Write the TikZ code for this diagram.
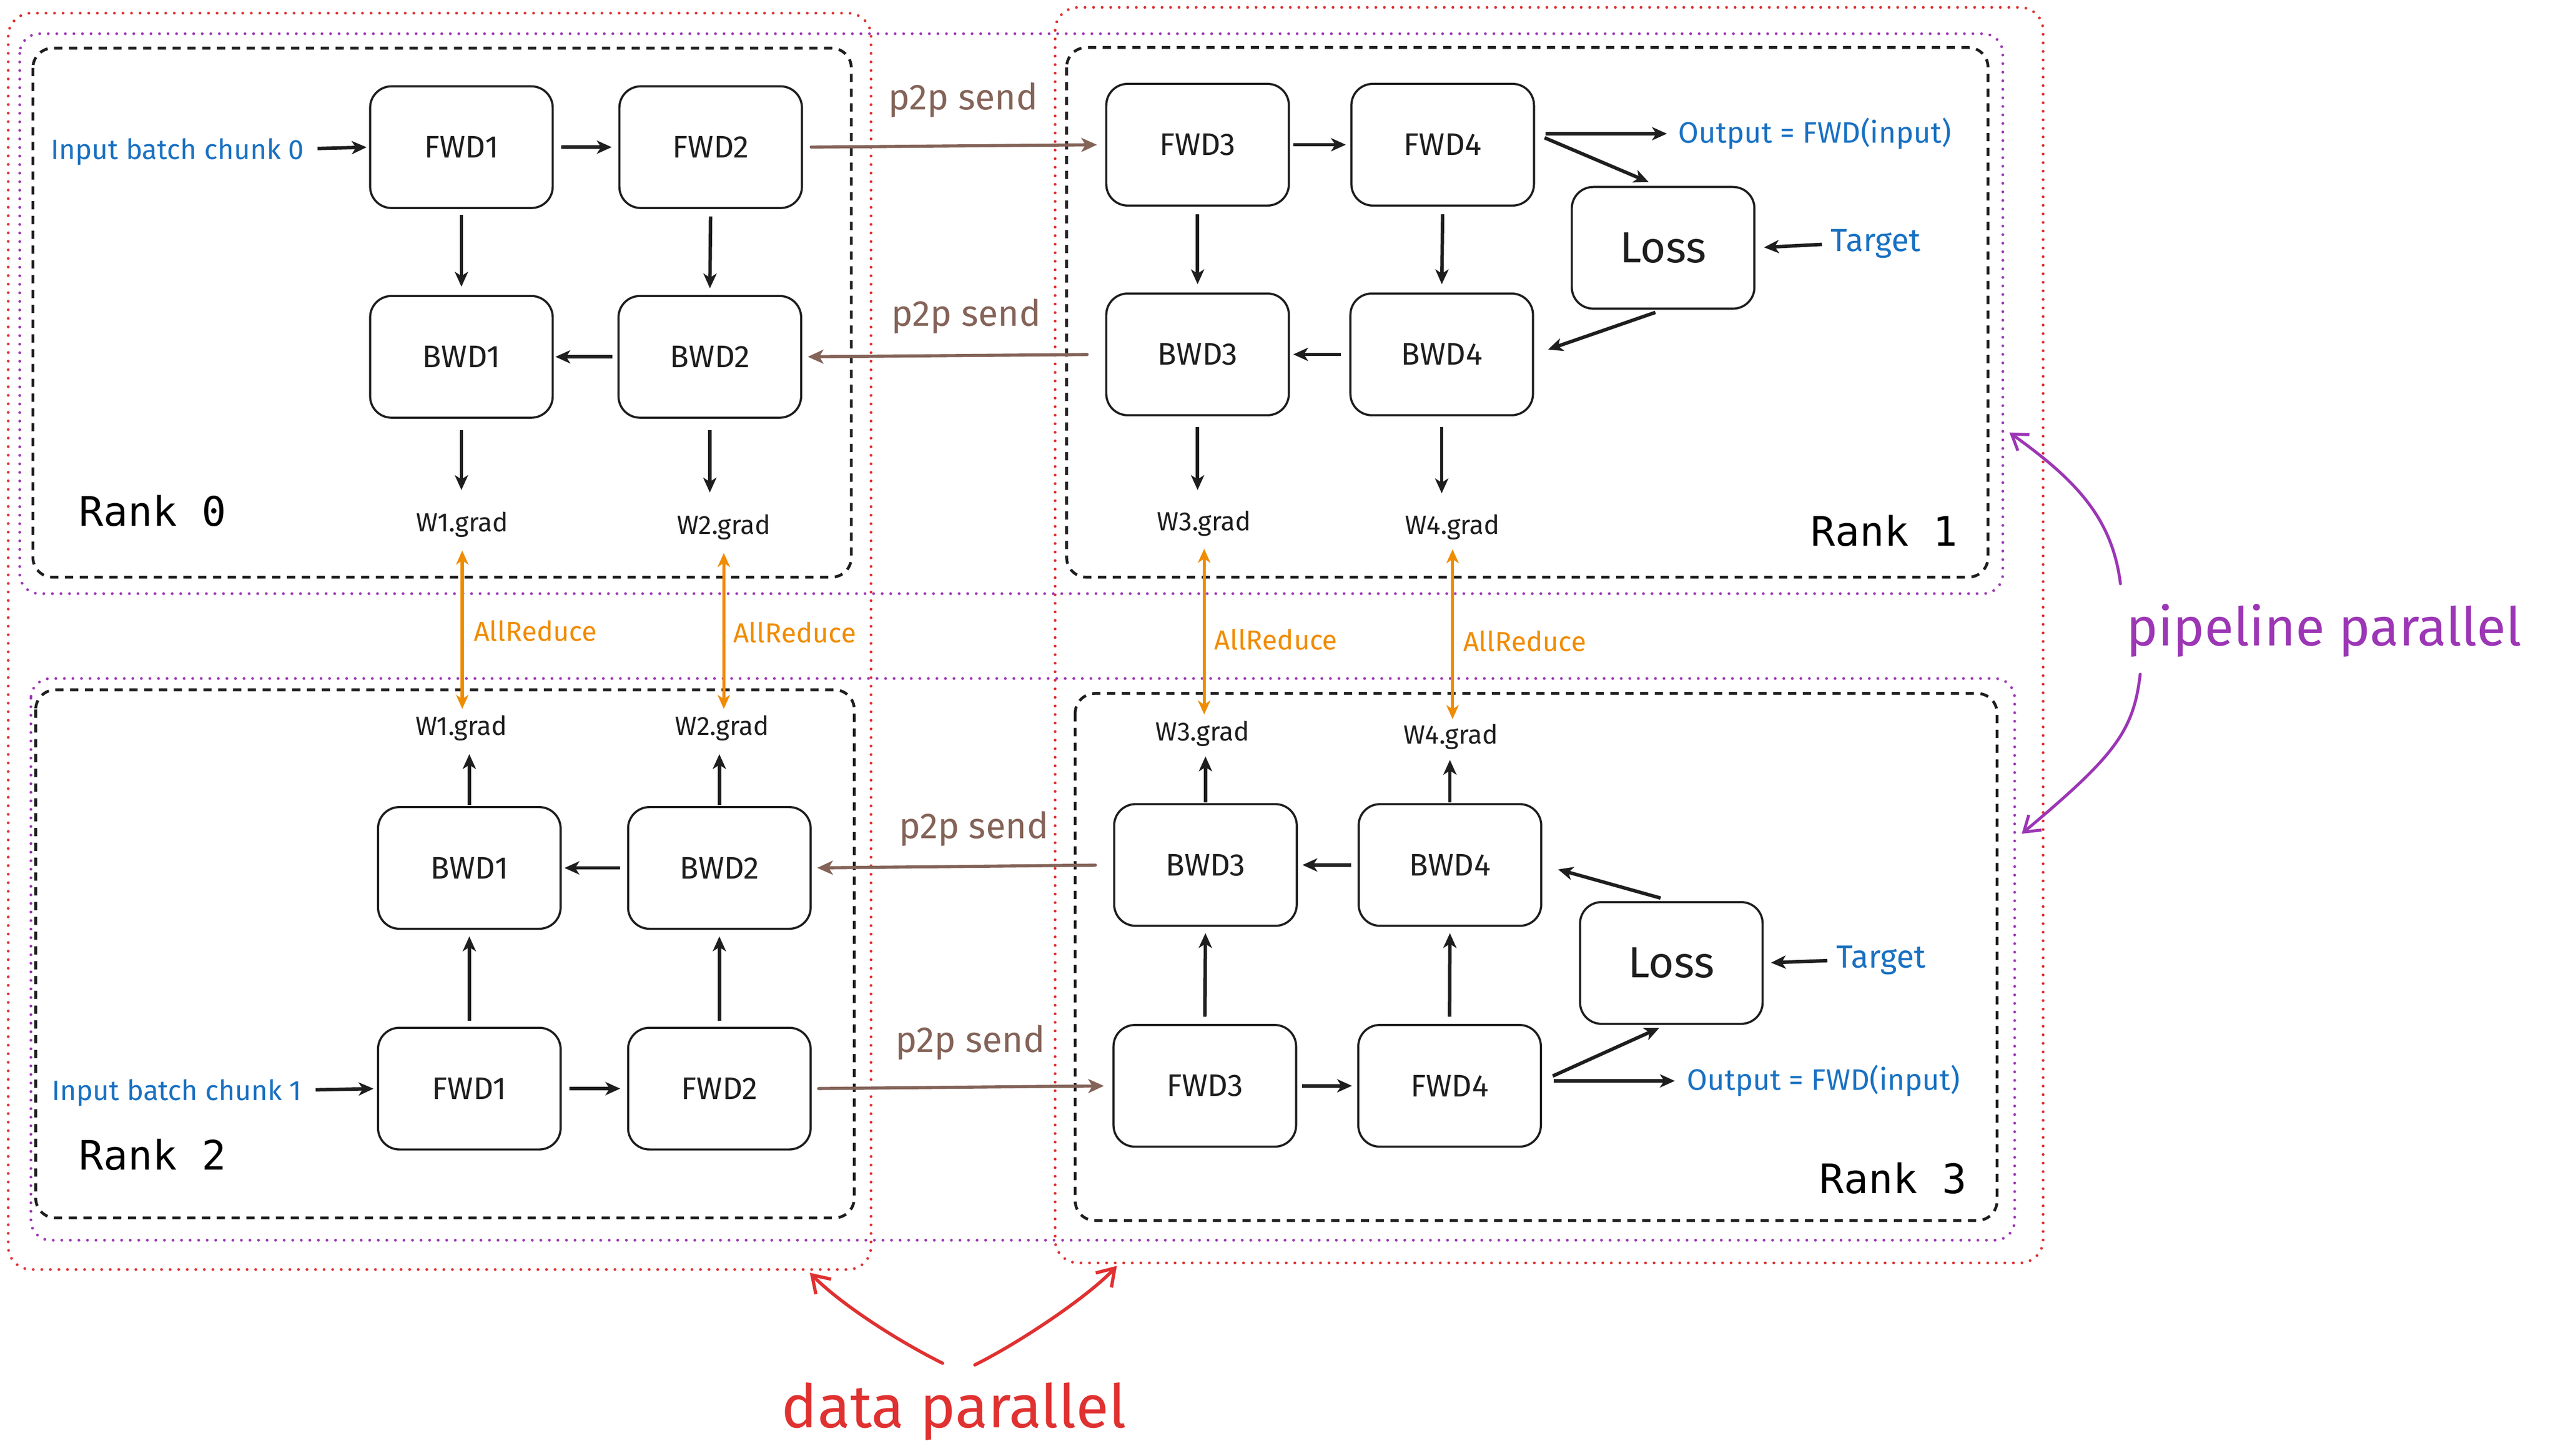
\documentclass[tikz,border=0pt]{standalone}
\usepackage{fontspec}
\setmainfont{Fira Sans}
\newfontfamily\rankfont{DejaVu Sans Mono}
\usetikzlibrary{arrows.meta}
\definecolor{ink}{HTML}{1E1E1E}
\definecolor{redc}{HTML}{E03131}
\definecolor{purpc}{HTML}{9C36B5}
\definecolor{orac}{HTML}{F08C00}
\definecolor{bluec}{HTML}{1971C2}
\definecolor{brownc}{HTML}{846358}
\newcommand\myfs[1]{\fontsize{#1}{#1}\selectfont}
\tikzset{
  box/.style={draw=ink, line width=1.3pt, rounded corners=13pt, minimum width=111pt, minimum height=74pt, inner sep=0pt, font=\myfs{19}, text=ink},
  lossfont/.style={font=\myfs{26.5}},
  rankbox/.style={draw=ink, line width=1.7pt, dash pattern=on 5pt off 4pt, rounded corners=12pt},
  reddot/.style={draw=redc, line width=1.7pt, line cap=round, dash pattern=on 0pt off 5.2pt, rounded corners=14pt},
  purpdot/.style={draw=purpc, line width=1.7pt, line cap=round, dash pattern=on 0pt off 5.2pt, rounded corners=12pt},
  arr/.style={draw=ink, line width=2.1pt, -{Stealth[length=9pt,width=8pt,inset=2.5pt]}},
  brarr/.style={draw=brownc, line width=1.9pt, line cap=round, -{Stealth[length=9.5pt,width=8.5pt,inset=2.5pt]}},
  orarr/.style={draw=orac, line width=1.9pt, {Stealth[length=8.5pt,width=7.5pt,inset=2.5pt]}-{Stealth[length=8.5pt,width=7.5pt,inset=2.5pt]}},
  annp/.style={draw=purpc, line width=1.8pt, line cap=round, -{Straight Barb[length=9pt,width=12pt]}},
  annr/.style={draw=redc, line width=2pt, line cap=round, -{Straight Barb[length=10pt,width=13pt]}},
  bluetxt/.style={inner sep=0pt, text=bluec, font=\myfs{17}},
  outtxt/.style={inner sep=0pt, text=bluec, font=\myfs{18}},
  tgtxt/.style={inner sep=0pt, text=bluec, font=\myfs{19.5}},
  gradtxt/.style={inner sep=0pt, text=ink, font=\myfs{16}},
  ortxt/.style={inner sep=0pt, text=orac, font=\myfs{16.7}},
  p2ptxt/.style={inner sep=0pt, text=brownc, font=\myfs{22}},
  ranktxt/.style={inner sep=0pt, text=black, font=\rankfont\myfs{24.7}},
}
\begin{document}
\begin{tikzpicture}[x=1pt,y=-1pt]
\fill[white] (0,0) rectangle (1555,885.2);
\useasboundingbox (0,0) rectangle (1555,885.2);

% data parallel groups (red)
\draw[reddot] (5,8) rectangle (529.5,772);
\draw[reddot] (641.4,4.5) rectangle (1242,768);
% pipeline parallel groups (purple)
\draw[purpdot] (12,20.5) rectangle (1217.5,361);
\draw[purpdot] (18.8,412.6) rectangle (1224.7,754.2);
% ranks
\draw[rankbox] (20,29.3) rectangle (517.5,351);
\draw[rankbox] (648.4,28.9) rectangle (1208.5,351);
\draw[rankbox] (21.7,419.5) rectangle (519.3,740.6);
\draw[rankbox] (653.6,421.7) rectangle (1214,742.2);

% Rank 0
\node[box] (f1) at (280.5,89.5) {FWD1};
\node[box] (f2) at (432,89.5) {FWD2};
\node[box] (b1) at (280.5,217) {BWD1};
\node[box] (b2) at (431.5,217) {BWD2};
% Rank 1
\node[box] (f3) at (728,88) {FWD3};
\node[box] (f4) at (877,88) {FWD4};
\node[box] (b3) at (728,215.5) {BWD3};
\node[box] (b4) at (876.4,215.5) {BWD4};
\node[box,lossfont] (l1) at (1011,150.7) {Loss};
% Rank 2
\node[box] (rb1) at (285.3,527.8) {BWD1};
\node[box] (rb2) at (437.3,527.8) {BWD2};
\node[box] (rf1) at (285.3,662) {FWD1};
\node[box] (rf2) at (437.3,662) {FWD2};
% Rank 3
\node[box] (rb3) at (732.8,526) {BWD3};
\node[box] (rb4) at (881.4,526) {BWD4};
\node[box] (rf3) at (732.4,660.3) {FWD3};
\node[box] (rf4) at (881.2,660.3) {FWD4};
\node[box,lossfont] (l3) at (1016,585.6) {Loss};

% blue texts
\node[bluetxt, anchor=base east] (in0) at (185,97) {Input batch chunk 0};
\node[bluetxt, anchor=base east] (in1) at (183.5,669) {Input batch chunk 1};
\node[outtxt, anchor=base west] (out1) at (1020,87) {Output = FWD(input)};
\node[outtxt, anchor=base west] (out3) at (1025.4,663) {Output = FWD(input)};
\node[tgtxt, anchor=base west] (tg1) at (1112.8,153) {Target};
\node[tgtxt, anchor=base west] (tg3) at (1116,588.6) {Target};

% grads
\node[gradtxt, anchor=base] (g1) at (281,323.2) {W1.grad};
\node[gradtxt, anchor=base] (g2) at (440,324.7) {W2.grad};
\node[gradtxt, anchor=base] (g3) at (732,322.7) {W3.grad};
\node[gradtxt, anchor=base] (g4) at (883,324.7) {W4.grad};
\node[gradtxt, anchor=base] (h1) at (280.5,447) {W1.grad};
\node[gradtxt, anchor=base] (h2) at (439,447) {W2.grad};
\node[gradtxt, anchor=base] (h3) at (731,450.4) {W3.grad};
\node[gradtxt, anchor=base] (h4) at (882,452.5) {W4.grad};

% AllReduce labels
\node[ortxt, anchor=base west] (ar1) at (287.8,389.7) {AllReduce};
\node[ortxt, anchor=base west] (ar2) at (445.5,390.8) {AllReduce};
\node[ortxt, anchor=base west] (ar3) at (738,395.1) {AllReduce};
\node[ortxt, anchor=base west] (ar4) at (889.3,396.2) {AllReduce};

% p2p labels
\node[p2ptxt, anchor=base west] (p1) at (539.9,66.8) {p2p send};
\node[p2ptxt, anchor=base west] (p2) at (541.8,198.2) {p2p send};
\node[p2ptxt, anchor=base west] (p3) at (546.4,510) {p2p send};
\node[p2ptxt, anchor=base west] (p4) at (544.3,640) {p2p send};

% rank labels
\node[ranktxt, anchor=base west] (r0) at (48,319.8) {Rank 0};
\node[ranktxt, anchor=base west] (r1) at (1100.7,332) {Rank 1};
\node[ranktxt, anchor=base west] (r2) at (48,711.4) {Rank 2};
\node[ranktxt, anchor=base west] (r3) at (1106,725.8) {Rank 3};

% annotation texts
\node[inner sep=0pt, text=purpc, font=\myfs{32.4}, anchor=base west] (pp) at (1292.4,392.6) {pipeline parallel};
\node[inner sep=0pt, text=redc, font=\myfs{36.5}, anchor=base west] (dp) at (475,868.3) {data parallel};

% ---- Rank 0 arrows
\draw[arr, shorten <=8pt, shorten >=1.5pt] (in0) -- (f1.west);
\draw[arr, shorten <=4.5pt, shorten >=4pt] (f1.east) -- (f2.west);
\draw[arr, shorten <=3.5pt, shorten >=5pt] (f1.south) -- (b1.north);
\draw[arr, shorten <=4.5pt, shorten >=4pt] (f2.south) -- (b2.north);
\draw[arr, shorten <=3pt, shorten >=1pt] (b2.west) -- (b1.east);
\draw[arr, shorten <=7pt, shorten >=13pt] (b1.south) -- (b1.south |- g1.north);
\draw[arr, shorten <=7pt, shorten >=13pt] (b2.south) -- (b2.south |- g2.north);
% ---- Rank 1 arrows
\draw[arr, shorten <=2.2pt, shorten >=2.7pt] (f3.east) -- (f4.west);
\draw[arr, shorten <=6.3pt, shorten >=6.7pt] (f4.east |- out1.west) -- (out1.west);
\draw[arr, shorten <=6.3pt, shorten >=6pt] (f4.east |- out1.west) -- (l1.95);
\draw[arr, shorten <=5pt, shorten >=9pt] (l1.south) -- (b4.east);
\draw[arr, shorten <=5.3pt, shorten >=5.2pt] (tg1.west) -- (l1.east);
\draw[arr, shorten <=4.6pt, shorten >=5pt] (f3.south) -- (b3.north);
\draw[arr, shorten <=4.6pt, shorten >=5pt] (f4.south) -- (b4.north);
\draw[arr, shorten <=5pt, shorten >=2pt] (b4.west) -- (b3.east);
\draw[arr, shorten <=6.4pt, shorten >=12.5pt] (b3.south) -- (b3.south |- g3.north);
\draw[arr, shorten <=6.4pt, shorten >=12.5pt] (b4.south) -- (b4.south |- g4.north);
% ---- Rank 2 arrows
\draw[arr, shorten <=8.4pt, shorten >=2.1pt] (in1) -- (rf1.west);
\draw[arr, shorten <=4.8pt, shorten >=4.1pt] (rf1.east) -- (rf2.west);
\draw[arr, shorten <=3.7pt, shorten >=4pt] (rf1.north) -- (rb1.south);
\draw[arr, shorten <=3.7pt, shorten >=4pt] (rf2.north) -- (rb2.south);
\draw[arr, shorten <=4.1pt, shorten >=1.7pt] (rb2.west) -- (rb1.east);
\draw[arr, shorten <=0.5pt, shorten >=8pt] (rb1.north) -- (rb1.north |- h1.south);
\draw[arr, shorten <=0.5pt, shorten >=8pt] (rb2.north) -- (rb2.north |- h2.south);
% ---- Rank 3 arrows
\draw[arr, shorten <=2.8pt, shorten >=3.2pt] (rf3.east) -- (rf4.west);
\draw[arr, shorten <=4.4pt, shorten >=3.8pt] (rf3.north) -- (rb3.south);
\draw[arr, shorten <=4.4pt, shorten >=3.8pt] (rf4.north) -- (rb4.south);
\draw[arr, shorten <=4pt, shorten >=2.8pt] (rb4.west) -- (rb3.east);
\draw[arr, shorten <=0.5pt, shorten >=6pt] (rb3.north) -- (rb3.north |- h3.south);
\draw[arr, shorten <=0.5pt, shorten >=6pt] (rb4.north) -- (rb4.north |- h4.south);
\draw[arr, shorten <=7.2pt, shorten >=7.3pt] (rf4.east |- out3.west) -- (out3.west);
\draw[arr, shorten <=7.2pt, shorten >=4.5pt] (rf4.east |- out3.west) -- (l3.265);
\draw[arr, shorten <=6.8pt, shorten >=10pt] (l3.north) -- (rb4.east);
\draw[arr, shorten <=5.2pt, shorten >=4.4pt] (tg3.west) -- (l3.east);

% ---- p2p sends
\draw[brarr, shorten <=5pt, shorten >=5pt] (f2.east) -- (f3.west);
\draw[brarr, shorten <=11pt, shorten >=3.4pt] (b3.west) -- (b2.east);
\draw[brarr, shorten <=10.8pt, shorten >=3.3pt] (rb3.west) -- (rb2.east);
\draw[brarr, shorten <=4.2pt, shorten >=5.2pt] (rf2.east) -- (rf3.west);

% ---- AllReduce
\draw[orarr, shorten <=8pt, shorten >=3.7pt] (g1.south) -- (g1.south |- h1.north);
\draw[orarr, shorten <=8pt, shorten >=3.7pt] (g2.south) -- (g2.south |- h2.north);
\draw[orarr, shorten <=7.4pt, shorten >=3.7pt] (g3.south) -- (g3.south |- h3.north);
\draw[orarr, shorten <=5.7pt, shorten >=3pt] (g4.south) -- (g4.south |- h4.north);

% ---- annotation arrows
\coordinate (pa1) at (1289,355);
\coordinate (pt1) at (1221.5,263);
\coordinate (pa2) at (1301,410);
\coordinate (pt2) at (1229,507);
\draw[annp] (pa1) .. controls (1284,315) and (1262,292) .. (pt1);
\draw[annp] (pa2) .. controls (1297,445) and (1285,460) .. (pt2);
\coordinate (da1) at (573,829);
\coordinate (dt1) at (492.3,774);
\coordinate (da2) at (592.6,830);
\coordinate (dt2) at (678.9,769.8);
\draw[annr] (da1) .. controls (543,814) and (510,792) .. (dt1);
\draw[annr] (da2) .. controls (622.6,815) and (663,787) .. (dt2);
\end{tikzpicture}
\end{document}
